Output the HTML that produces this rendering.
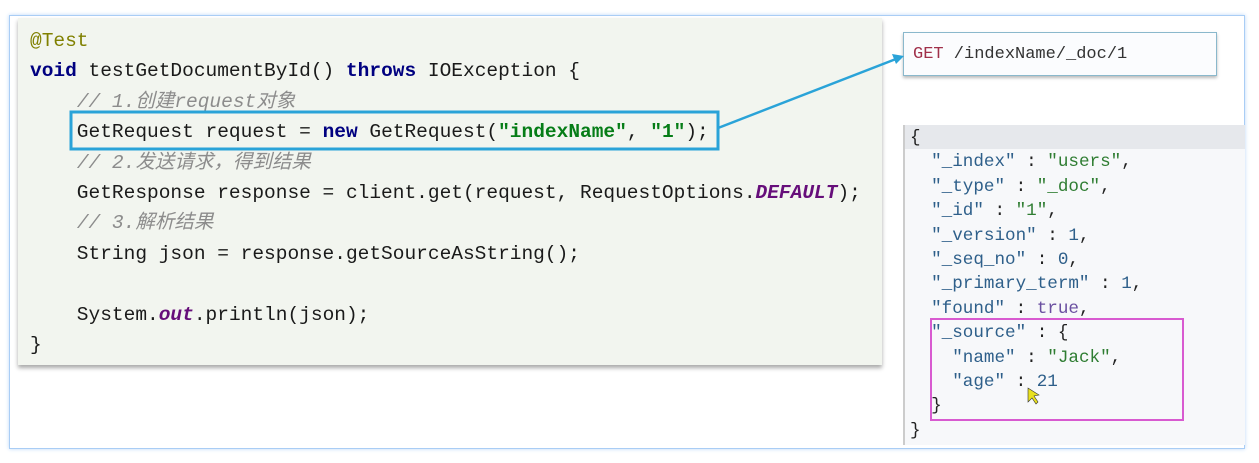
<!DOCTYPE html>
<html><head><meta charset="utf-8"><style>
body{margin:0;width:1259px;height:463px;background:#fff;position:relative;overflow:hidden;font-family:"Liberation Mono","Noto Sans CJK SC",monospace}
.frame{position:absolute;left:9px;top:15px;width:1234px;height:432px;border:1px solid #a9cdf5;box-shadow:0 0 4px #bcd8f8;background:#fff}
.code{position:absolute;left:18px;top:18px;width:864px;height:347px;background:#f2f5ef;box-shadow:0 3px 4px #aaa}
.code pre{margin:0;position:absolute;left:12px;top:8px;font-size:19.5px;line-height:30.4px;color:#1a1a1a;font-family:"Liberation Mono","Noto Sans CJK SC",monospace}
.an{color:#808000}.kw{color:#000080;font-weight:bold}.cm{color:#8c8c8c;font-style:italic}.st{color:#067d17;font-weight:bold}.it{color:#660e7a;font-style:italic;font-weight:bold}
.json{position:absolute;left:903px;top:125px;width:340px;height:320px;background:#f7f8fa;border-left:2px solid #ccc}
.json .hl{position:absolute;left:0;top:0;width:340px;height:24px;background:#e6e8ec}
.json pre{margin:0;position:absolute;left:5px;top:1px;font-size:17.6px;line-height:24.4px;color:#222;font-family:"Liberation Mono",monospace}
.k{color:#2e5f8a}.s{color:#2f7d32}.n{color:#2e5f8a}.t{color:#6a4fa0}
.get{position:absolute;left:903px;top:32px;width:314px;height:44px;border:1px solid #8ab8cc;background:#fbfcfe;box-shadow:0 2px 3px #bbb;font-size:17px;line-height:44px;padding-left:9px;box-sizing:border-box;color:#333}
</style></head><body>
<div class="frame"></div>
<div class="code"><pre><span class="an">@Test</span>
<span class="kw">void</span> testGetDocumentById() <span class="kw">throws</span> IOException {
    <span class="cm">// 1.创建request对象</span>
    GetRequest request = <span class="kw">new</span> GetRequest(<span class="st">"indexName"</span>, <span class="st">"1"</span>);
    <span class="cm">// 2.发送请求，得到结果</span>
    GetResponse response = client.get(request, RequestOptions.<span class="it">DEFAULT</span>);
    <span class="cm">// 3.解析结果</span>
    String json = response.getSourceAsString();

    System.<span class="it">out</span>.println(json);
}</pre></div>
<div class="get"><span style="color:#a0304a">GET</span> /indexName/_doc/1</div>
<div class="json"><div class="hl"></div><pre>{
  <span class="k">"_index"</span> : <span class="s">"users"</span>,
  <span class="k">"_type"</span> : <span class="s">"_doc"</span>,
  <span class="k">"_id"</span> : <span class="s">"1"</span>,
  <span class="k">"_version"</span> : <span class="n">1</span>,
  <span class="k">"_seq_no"</span> : <span class="n">0</span>,
  <span class="k">"_primary_term"</span> : <span class="n">1</span>,
  <span class="k">"found"</span> : <span class="t">true</span>,
  <span class="k">"_source"</span> : {
    <span class="k">"name"</span> : <span class="s">"Jack"</span>,
    <span class="k">"age"</span> : <span class="n">21</span>
  }
}</pre></div>
<svg width="1259" height="463" style="position:absolute;left:0;top:0">
<rect x="71" y="112" width="647" height="37" fill="none" stroke="#2aa3d8" stroke-width="3"/>
<rect x="931" y="319" width="252" height="101" fill="none" stroke="#d85ad0" stroke-width="2"/>
<line x1="718" y1="128" x2="896" y2="59" stroke="#2aa3d8" stroke-width="2.5"/>
<polygon points="904,56 892,54 896,64" fill="#2aa3d8"/>
<polygon points="1028,388 1028,402 1032,398 1036,404 1038,402 1034,396 1039,395" fill="#e8e020" stroke="#333" stroke-width="0.6"/>
</svg>
</body></html>
